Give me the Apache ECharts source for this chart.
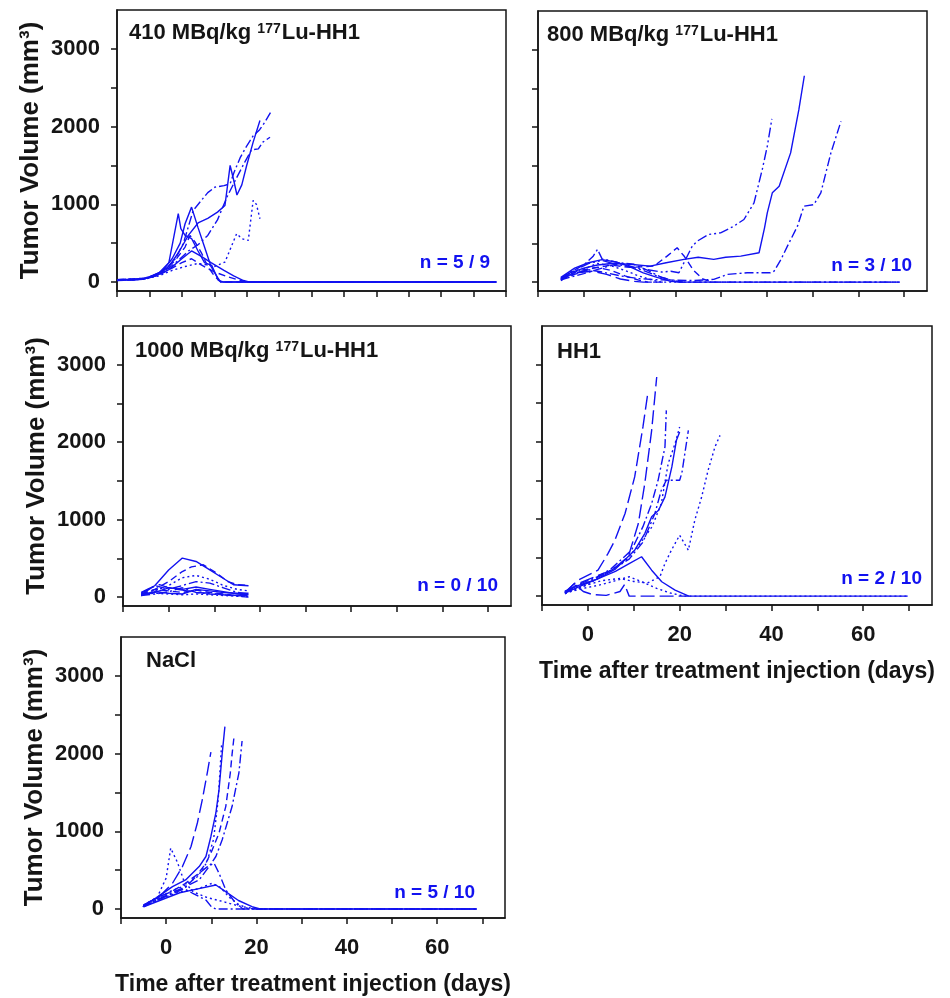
<!DOCTYPE html>
<html><head><meta charset="utf-8">
<script src="https://cdn.jsdelivr.net/npm/echarts@6/dist/echarts.min.js"></script>
<style>html,body{margin:0;padding:0;background:#fff}#c{width:950px;height:998px}</style>
</head><body><div id="c"></div>
<script>
// ---------- DATA (day, tumor volume mm3) ----------
const lu410 = [
  [[-10,30],[-5,30],[-1,50],[3,120],[6,250],[8.9,879],[9.7,686],[11,600],[13,560],[15,400],[17,250],[19.2,215],[21.3,22],[23,0],[107,0]],
  [[-10,25],[-4,30],[0,55],[4,140],[7,300],[9.5,500],[11,750],[13,964],[15,700],[17,450],[19,200],[21,60],[22,0],[107,0]],
  [[-10,30],[-3,35],[1,80],[5,160],[8,300],[10.5,500],[13.5,921],[16,1050],[18,1150],[20.2,1221],[23,1240],[24.9,1264],[26,1400],[28,1600],[30,1750],[32,1880],[34,1960],[35.5,2050],[37.7,2206]],
  [[-10,30],[-2,40],[2,90],[6,180],[9,280],[12,400],[15,480],[18,600],[21,800],[24,1100],[27,1350],[29.5,1550],[31.5,1700],[33.6,1714],[35,1800],[37.2,1863]],
  [[-10,25],[-2,40],[2,90],[6,200],[9,380],[12,600],[15,760],[18,820],[21,900],[23.3,985],[24.9,1500],[25.9,1329],[27,1120],[28.5,1250],[30,1500],[32,1800],[34.1,2078]],
  [[-10,20],[-2,35],[3,80],[7,150],[11,200],[15,240],[18,220],[20,200],[23.3,257],[26.9,622],[28.5,558],[30.5,536],[32,1050],[33,1000],[34.1,815]],
  [[-10,30],[-2,40],[2,80],[6,160],[10,300],[13,400],[16,330],[19,250],[23,150],[26,80],[29,20],[31,0],[107,0]],
  [[-10,20],[-2,35],[3,90],[7,180],[10,250],[13,300],[16,220],[20,130],[24,70],[28,20],[30,0],[107,0]],
  [[-10,30],[-1,50],[4,130],[8,280],[11,450],[12.5,600],[14,520],[16,380],[18,200],[20,80],[22,0],[107,0]]
];
const lu800 = [
  [[-5,40],[-3,120],[0,180],[3,220],[6,240],[10,230],[14.5,206],[18,250],[21.9,293],[25,320],[28.4,293],[31,320],[34.3,335],[38.3,379],[39.5,700],[40.1,894],[41.2,1152],[42.7,1237],[45.2,1668],[47,2226],[48.2,2664]],
  [[-5,50],[-2,150],[1,240],[4,280],[7,230],[10,200],[14,160],[17,130],[19,140],[20.8,121],[23.7,464],[24.8,529],[27.3,615],[29.9,636],[32.8,722],[35,808],[37.2,1023],[39,1453],[40.1,1753],[41.1,2106]],
  [[-5,40],[-2,110],[1,160],[4,130],[8,80],[12,45],[16,30],[20,25],[24,20],[28.4,35],[31.4,99],[35.7,121],[40.8,121],[41.6,142],[43.1,293],[44.5,464],[46.7,722],[48.1,980],[50.3,1001],[51.8,1152],[54,1668],[56.2,2075]],
  [[-5,30],[-2,100],[2,180],[6,220],[10,190],[15.3,206],[18.2,335],[20.4,443],[22,330],[24,150],[26,40],[28,0]],
  [[-5,30],[-3,130],[0,220],[2,330],[3,421],[4,300],[7,260],[10,210],[13,150],[16,80],[19,30],[21,0],[69,0]],
  [[-5,60],[-2,180],[1,250],[4,290],[7,260],[10,200],[13,120],[16,60],[19,10],[21,0],[69,0]],
  [[-5,20],[-3,90],[0,170],[3,240],[6,210],[9,150],[12,80],[15,25],[17,0],[69,0]],
  [[-5,50],[-1,150],[3,190],[6,150],[9,80],[12,25],[14,0],[18,0]],
  [[-5,30],[0,110],[4,180],[8,250],[11,230],[14,150],[17,60],[20,10],[22,0]],
  [[-5,40],[-2,120],[2,140],[5,100],[8,40],[11,10],[13,0],[16,0]]
];
const lu1000 = [
  [[-6,30],[-3,150],[0,350],[3,504],[6,460],[8.4,375],[11.3,266],[14.2,159],[17.5,146]],
  [[-6,40],[-3,100],[0,200],[3,330],[5,390],[7.6,417],[10,330],[13,200],[15,160],[17.5,150]],
  [[-6,20],[-3,80],[0,150],[3,250],[6,280],[9,230],[12,150],[15,100],[17.5,80]],
  [[-6,50],[-3,150],[0,100],[3,150],[6,200],[9,180],[12,120],[15,60],[17.5,40]],
  [[-6,30],[-3,60],[0,120],[3,100],[6,130],[9,100],[12,70],[15,40],[17.5,30]],
  [[-6,20],[-3,100],[0,80],[3,60],[6,90],[9,60],[12,40],[15,20],[17.5,10]],
  [[-6,40],[-3,50],[0,40],[3,30],[6,40],[9,30],[12,20],[15,15],[17.5,5]],
  [[-6,20],[-3,40],[0,70],[3,120],[6,60],[9,40],[12,30],[15,10],[17.5,0]],
  [[-6,60],[-4,120],[-2,160],[0,120],[3,90],[6,60],[9,50],[12,30],[15,20],[17.5,20]],
  [[-6,30],[-3,70],[0,50],[3,40],[6,100],[9,80],[12,60],[15,50],[17.5,50]]
];
const hh1 = [
  [[-5,35],[-2.1,164],[1.5,251],[5.2,336],[8.8,510],[11,941],[12.4,1458],[13.9,2148],[15,2839]],
  [[-5,50],[-2.1,207],[2.2,336],[4.4,553],[5.9,725],[8.1,1070],[10.2,1545],[12,2192],[13.1,2645]],
  [[-5,60],[-2,150],[2,250],[5,350],[9.5,595],[12,900],[13.9,1200],[15.3,1501],[16.8,1933],[17.1,2407]],
  [[-5,40],[-2,120],[2,220],[6,350],[10.2,595],[12.4,811],[13.9,1027],[15.4,1113],[16.8,1286],[18.3,1674],[19.3,2019],[20,2127]],
  [[-5,30],[0,150],[4,300],[8,450],[11,650],[14,900],[16,1200],[17.5,1717],[19,1976],[20,2192]],
  [[-5,50],[0,180],[5,330],[9,480],[12,700],[14.6,1070],[16,1372],[17.1,1501],[20,1501],[20.5,1600],[21.9,2148]],
  [[-5,50],[-1,130],[3,200],[7,230],[10,190],[13,170],[15.7,251],[16.8,423],[18.2,595],[20,789],[21.9,595],[23.3,983],[24.8,1286],[26.2,1630],[27.7,1933],[28.8,2083]],
  [[-5,60],[-2,140],[2,220],[6,320],[9,420],[11.7,510],[13.9,336],[16.1,186],[19,78],[22,0],[69.7,0]],
  [[-5,40],[-1,100],[3,150],[6,200],[9,251],[12,180],[15,100],[18,40],[21,0],[69.7,0]],
  [[-5,40],[-3,160],[-1,60],[1,20],[4,10],[7,60],[8,150],[9,0],[22,0]]
];
const nacl = [
  [[-5.2,30],[-3,116],[-0.8,202],[1.4,332],[3.6,547],[5.5,805],[6.9,1107],[8,1408],[9.1,1753],[9.9,2020]],
  [[-5,40],[-2,150],[1.4,288],[4.3,375],[7.3,547],[8.8,676],[9.9,934],[11,1236],[11.7,1537],[12.4,2000],[13,2347]],
  [[-5,50],[-2,140],[1,220],[4,320],[7,450],[8.8,590],[10.2,762],[11.7,978],[13.2,1322],[14.2,1753],[14.6,2000],[15,2205]],
  [[-5,30],[-2,120],[1,200],[4,280],[7.3,375],[9.5,547],[11,676],[12.4,891],[14.6,1322],[16.1,1753],[16.8,2162]],
  [[-5,40],[-2,130],[1,230],[4,300],[7,420],[9,600],[10.5,900],[11.5,1400],[12.3,2141]],
  [[-5,50],[-2,150],[0,400],[1,784],[2.5,600],[4,350],[6,220],[9,150],[13,90],[16,40],[19,10],[21,0],[68.7,0]],
  [[-5,30],[-2,110],[1,190],[4,260],[7.3,461],[9,540],[10.6,590],[11.7,461],[13.2,245],[15.4,74],[17,0],[68.7,0]],
  [[-5,40],[-1,140],[3,220],[7,260],[10.2,332],[12,280],[14,150],[16,60],[18,10],[20,0],[68.7,0]],
  [[-5,30],[-1,120],[3,210],[7,260],[11,310],[13,230],[16,110],[19,30],[21,0],[68.7,0]],
  [[-5,50],[-2,150],[1,220],[4,260],[6,200],[8.8,116],[10,30],[11,0],[68.7,0]]
];
const panelTitles = ['410 MBq/kg {sup|177}Lu-HH1', '800 MBq/kg {sup|177}Lu-HH1', '1000 MBq/kg {sup|177}Lu-HH1', 'HH1', 'NaCl'];
const nLabels = ['n = 5 / 9', 'n = 3 / 10', 'n = 0 / 10', 'n = 2 / 10', 'n = 5 / 10'];
const yTicks = [0, 500, 1000, 1500, 2000, 2500, 3000];
const yTickLabels = [0, 1000, 2000, 3000];
const xTicksWide = [-10, 0, 10, 20, 30, 40, 50, 60, 70, 80, 90, 100, 110];
const xTicks = [-10, 0, 10, 20, 30, 40, 50, 60, 70];
const xTickLabels = [0, 20, 40, 60];
const yTitle = 'Tumor Volume (mm³)';
const xTitle = 'Time after treatment injection (days)';

// ---------- STYLE / LAYOUT ----------
const FONT = '"Liberation Sans", Arial, sans-serif';
const BLUE = '#1212f0';
const INK = '#151515';
const DASH = {
  solid: 'solid', dash: [7, 4], dot: [2, 3], dashdot: [9, 3, 2, 3],
  dashdotdot: [10, 3, 2, 3, 2, 3], longdash: [14, 5]
};
const styles410 = ['solid', 'solid', 'dashdot', 'dashdot', 'solid', 'dot', 'solid', 'dash', 'dash'];
const styles800 = ['solid', 'dashdotdot', 'dashdot', 'dash', 'dashdot', 'solid', 'dot', 'dash', 'dashdot', 'longdash'];
const styles1000 = ['solid', 'dash', 'dot', 'dashdot', 'solid', 'dash', 'dot', 'dashdot', 'longdash', 'solid'];
const stylesHH1 = ['longdash', 'longdash', 'dashdot', 'solid', 'dot', 'dashdot', 'dot', 'solid', 'dot', 'longdash'];
const stylesNaCl = ['longdash', 'solid', 'dash', 'dashdot', 'dot', 'dot', 'dashdot', 'dot', 'solid', 'dashdot'];

const panels = [
  { data: lu410, st: styles410, grid: { left: 117, top: 10, width: 389, height: 281 }, xmax: 110, xt: xTicksWide, yLab: true, xLab: false, title: [129, 22], n: [460, 253] },
  { data: lu800, st: styles800, grid: { left: 538, top: 11, width: 389, height: 280 }, xmax: 75, xt: xTicks, yLab: false, xLab: false, title: [547, 24], n: [38, 256] },
  { data: lu1000, st: styles1000, grid: { left: 123, top: 326, width: 388, height: 280 }, xmax: 75, xt: xTicks, yLab: true, xLab: false, title: [135, 340], n: [452, 576] },
  { data: hh1, st: stylesHH1, grid: { left: 542, top: 326, width: 390, height: 279 }, xmax: 75, xt: xTicks, yLab: false, xLab: true, title: [557, 341], n: [28, 569] },
  { data: nacl, st: stylesNaCl, grid: { left: 121, top: 637, width: 384, height: 281 }, xmax: 75, xt: xTicks, yLab: true, xLab: true, title: [146, 650], n: [475, 883] }
];

const axisLineStyle = { color: INK, width: 1.5 };
const grids = [], xAxes = [], yAxes = [], series = [], titles = [];
panels.forEach((p, i) => {
  grids.push(Object.assign({ show: true, borderColor: INK, borderWidth: 1.5, backgroundColor: 'transparent', containLabel: false }, p.grid));
  xAxes.push({
    type: 'value', gridIndex: i, min: -10, max: p.xmax,
    axisLine: { show: true, onZero: false, lineStyle: axisLineStyle },
    axisTick: { show: true, customValues: p.xt, length: 6, lineStyle: axisLineStyle },
    axisLabel: { show: p.xLab, customValues: xTickLabels, formatter: v => String(v), fontSize: 22, fontWeight: 'bold', color: INK, fontFamily: FONT, margin: 19 },
    splitLine: { show: false },
    name: p.xLab ? xTitle : '', nameLocation: 'middle', nameGap: 55,
    nameTextStyle: { fontSize: 23, fontWeight: 'bold', color: INK, fontFamily: FONT }
  });
  yAxes.push({
    type: 'value', gridIndex: i, min: -115, max: 3500,
    axisLine: { show: true, onZero: false, lineStyle: axisLineStyle },
    axisTick: { show: true, customValues: yTicks, length: 6, lineStyle: axisLineStyle },
    axisLabel: { show: p.yLab, customValues: yTickLabels, formatter: v => String(v), fontSize: 22, fontWeight: 'bold', color: INK, fontFamily: FONT, margin: 17 },
    splitLine: { show: false },
    name: p.yLab ? yTitle : '', nameLocation: 'middle', nameGap: 73,
    nameTextStyle: { fontSize: 26, fontWeight: 'bold', color: INK, fontFamily: FONT }
  });
  p.data.forEach((d, k) => {
    series.push({
      type: 'line', xAxisIndex: i, yAxisIndex: i, data: d, symbol: 'none', showSymbol: false,
      lineStyle: { color: BLUE, width: 1.4, type: DASH[p.st[k]] },
      silent: true, animation: false, z: 2
    });
  });
  titles.push({
    text: panelTitles[i], left: p.title[0], top: p.title[1], padding: 0,
    textStyle: { fontSize: 22, fontWeight: 'bold', color: INK, fontFamily: FONT,
      rich: { sup: { fontSize: 14, fontWeight: 'bold', color: INK, fontFamily: FONT, verticalAlign: 'top', padding: [0, 1, 0, 0] } } }
  });
  titles.push({
    text: nLabels[i], right: p.n[0], top: p.n[1], padding: 0,
    textStyle: { fontSize: 19, fontWeight: 'bold', color: BLUE, fontFamily: FONT }
  });
});

const chart = echarts.init(document.getElementById('c'), null, { renderer: 'canvas' });
chart.setOption({
  backgroundColor: '#fff', animation: false,
  title: titles, grid: grids, xAxis: xAxes, yAxis: yAxes, series: series
});
</script>
</body></html>
